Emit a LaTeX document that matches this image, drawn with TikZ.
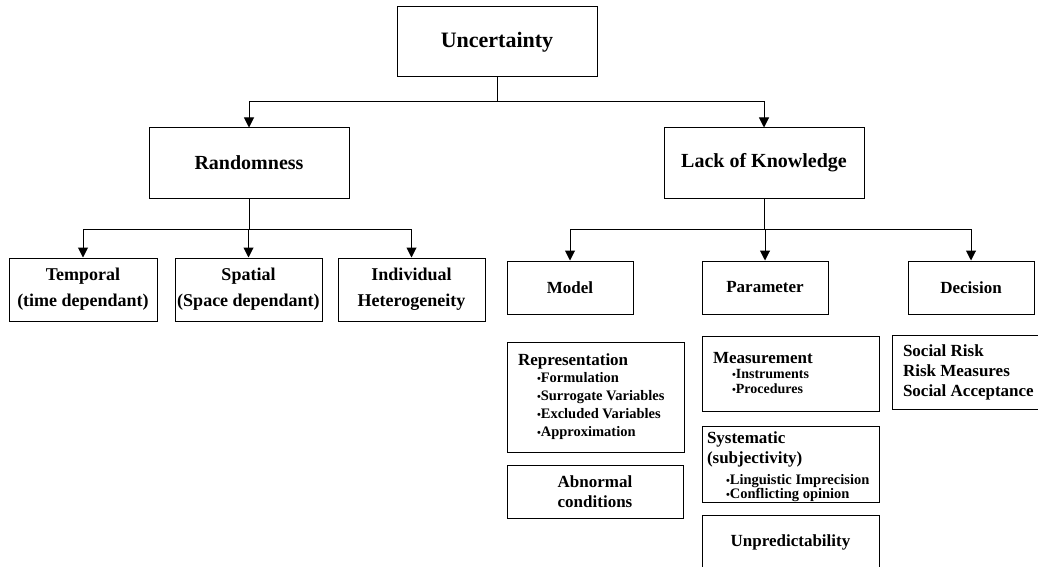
\documentclass[tikz,border=0pt]{standalone}
\usepackage{fontspec}
\setmainfont{Liberation Serif}
\usetikzlibrary{arrows.meta}

% indented bullet for the list boxes
\newcommand{\itm}{\hspace*{19pt}{\fontsize{11}{11}\selectfont\textbullet}}
\newcommand{\sml}{\fontsize{14.5}{17}\selectfont}

\begin{document}
\begin{tikzpicture}[x=1pt,y=-1pt,line width=1pt,
  >={Triangle[width=10pt,length=10pt]},
  box/.style={draw,inner sep=0pt,align=center,
    font=\bfseries\fontsize{17}{20}\selectfont},
  topbox/.style={box,minimum width=200pt,minimum height=70pt},
  catbox/.style={box,minimum width=126pt,minimum height=53pt},
  listbox/.style={box,align=flush left,inner xsep=11pt}]

\useasboundingbox (0,0) rectangle (1038,567);

% --- Livelli superiori
\node[topbox,font=\bfseries\fontsize{22}{26}\selectfont] (unc) at (497,42) {Uncertainty};
\node[topbox,font=\bfseries\fontsize{20}{24}\selectfont] (rand) at (249,163) {Randomness};
\node[topbox,font=\bfseries\fontsize{20}{24}\selectfont] (lok) at (764,163) {Lack of Knowledge};

% --- Randomness
\node[box,minimum width=148pt,minimum height=63pt,font=\bfseries\fontsize{18}{26}\selectfont]
  (temp) at (83,289.5) {Temporal\\(time dependant)};
\node[box,minimum width=147pt,minimum height=63pt,font=\bfseries\fontsize{18}{26}\selectfont]
  (spat) at (248.5,289.5) {Spatial\\(Space dependant)};
\node[box,minimum width=147pt,minimum height=63pt,font=\bfseries\fontsize{18}{26}\selectfont]
  (indiv) at (411.5,289.5) {Individual\\Heterogeneity};

% --- Lack of Knowledge
\node[catbox] (model) at (570,287.5) {Model};
\node[catbox] (param) at (765,287.5) {Parameter};
\node[catbox] (dec) at (971,287.5) {Decision};

% --- Model
\node[listbox,text width=155pt,minimum height=110pt] (repr) at (595.5,397)
  {Representation\\[-3pt]
   {\sml\itm Formulation}\\[-2pt]
   {\sml\itm Surrogate Variables}\\[-2pt]
   {\sml\itm Excluded Variables}\\[-2pt]
   {\sml\itm Approximation}};
\node[box,minimum width=176pt,minimum height=53pt] (abn) at (595,491.5)
  {Abnormal\\conditions};

% --- Parameter
\node[listbox,text width=155pt,minimum height=75pt] (meas) at (790.5,373.5)
  {Measurement\\[-5pt]
   {\fontsize{14}{17}\selectfont\itm Instruments}\\[-5pt]
   {\fontsize{14}{17}\selectfont\itm Procedures}};
\node[listbox,inner xsep=5pt,text width=167pt,minimum height=75pt] (syst) at (790.5,464.5)
  {\rule{0pt}{17pt}Systematic\\[0pt]
   (subjectivity)\\[1pt]
   {\sml\itm Linguistic Imprecision}\\[-6pt]
   {\sml\itm Conflicting opinion}};
\node[box,minimum width=177pt,minimum height=55pt] (unp) at (790.5,542.5) {Unpredictability};

% --- Decision
\node[listbox,text width=140pt,minimum height=74pt] (soc) at (973,372)
  {Social Risk\\Risk Measures\\Social Acceptance};

% --- Connettori
\draw[->] (unc.south) -- ++(0,24) -| (rand.north);
\draw[->] (unc.south) -- ++(0,24) -| (lok.north);
\foreach \c in {temp,spat,indiv}
  \draw[->] (rand.south) -- ++(0,31) -| (\c.north);
\foreach \c in {model,param,dec}
  \draw[->] (lok.south) -- ++(0,31) -| (\c.north);

\end{tikzpicture}
\end{document}
